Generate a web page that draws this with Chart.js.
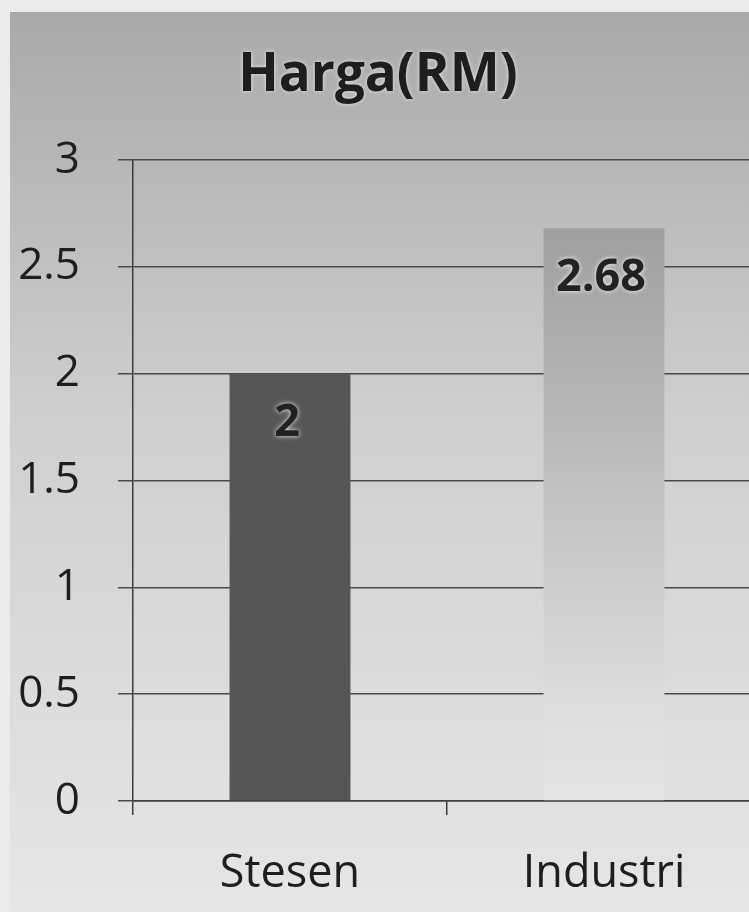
<!DOCTYPE html>
<html>
<head>
<meta charset="utf-8">
<script src="https://cdn.jsdelivr.net/npm/chart.js@4.4.1/dist/chart.umd.min.js"></script>
<style>
  html, body { margin: 0; padding: 0; overflow: hidden; background: #ebebeb; }
  #wrap { position: absolute; left: 10px; top: 12px; width: 800px; height: 900px; }
</style>
</head>
<body>
<div id="wrap"><canvas id="chart" width="800" height="900"></canvas></div>
<script>
const chartTitle = "Harga(RM)";
const categories = ["Stesen", "Industri"];
const prices = [2, 2.68];
const priceLabels = ["2", "2.68"];
const yTicks = [0, 0.5, 1, 1.5, 2, 2.5, 3];

const FONT = "'Open Sans', 'Noto Sans', sans-serif";

// background of the whole chart + title text
const backdrop = {
    id: "backdrop",
    beforeDraw(chart) {
        const { ctx, width, height } = chart;
        ctx.save();
        const g = ctx.createLinearGradient(0, 0, 0, height);
        g.addColorStop(0, "#a9a9a9");
        g.addColorStop(0.45, "#cfcfcf");
        g.addColorStop(1, "#e6e6e6");
        ctx.fillStyle = g;
        ctx.fillRect(0, 0, width, height);
        ctx.restore();
    },
    afterDraw(chart) {
        const { ctx } = chart;
        ctx.save();
        ctx.font = `bold 53px ${FONT}`;
        ctx.textAlign = "center";
        ctx.textBaseline = "middle";
        ctx.shadowColor = "rgba(255,255,255,0.7)";
        ctx.shadowBlur = 4;
        ctx.fillStyle = "#1e1e1e";
        ctx.fillText(chartTitle, 368, 64);
        ctx.restore();
    },
};

// value labels inside bar tops
const barValues = {
    id: "barValues",
    afterDatasetsDraw(chart) {
        const { ctx } = chart;
        const meta = chart.getDatasetMeta(0);
        ctx.save();
        ctx.font = `bold 45px ${FONT}`;
        ctx.textAlign = "center";
        ctx.textBaseline = "middle";
        ctx.shadowColor = "rgba(255,255,255,0.9)";
        ctx.shadowBlur = 5;
        ctx.fillStyle = "#222";
        meta.data.forEach((bar, i) => {
            ctx.fillText(priceLabels[i], bar.x - 3, bar.y + 50);
        });
        ctx.restore();
    },
};

function barFill(context) {
    const chart = context.chart;
    const { ctx, chartArea } = chart;
    if (context.dataIndex === 0) return "#565656";
    if (!chartArea) return "#bbbbbb";
    const y = chart.scales.y;
    const g = ctx.createLinearGradient(0, y.getPixelForValue(prices[1]), 0, y.getPixelForValue(0));
    g.addColorStop(0, "#9f9f9f");
    g.addColorStop(0.85, "#dedede");
    g.addColorStop(1, "#e4e4e4");
    return g;
}

new Chart(document.getElementById("chart"), {
    type: "bar",
    data: {
        labels: categories,
        datasets: [{
            data: prices,
            backgroundColor: barFill,
            borderWidth: 0,
            barPercentage: 0.385,
            categoryPercentage: 1,
        }],
    },
    options: {
        responsive: false,
        animation: false,
        layout: { padding: { top: 148, right: 49, left: 0, bottom: 0 } },
        plugins: {
            legend: { display: false },
            tooltip: { enabled: false },
            title: { display: false },
        },
        scales: {
            x: {
                afterFit(scale) { scale.height = 111; },
                grid: {
                    offset: true,
                    drawOnChartArea: false,
                    drawTicks: true,
                    tickLength: 14,
                    color: "#3c3c3c",
                    lineWidth: 1.5,
                },
                border: { display: true, color: "#3c3c3c", width: 1.5 },
                ticks: {
                    color: "#1e1e1e",
                    font: { family: FONT, size: 45 },
                    padding: 32,
                },
            },
            y: {
                min: 0,
                max: 3,
                afterFit(scale) { scale.width = 123; },
                afterBuildTicks(scale) {
                    scale.ticks = yTicks.map(v => ({ value: v }));
                },
                grid: {
                    color: "#4a4a4a",
                    lineWidth: 1.5,
                    drawTicks: true,
                    tickLength: 15,
                },
                border: { display: true, color: "#3c3c3c", width: 1.5 },
                ticks: {
                    color: "#1e1e1e",
                    font: { family: FONT, size: 44 },
                    padding: 38,
                    callback: (v) => String(v),
                },
            },
        },
    },
    plugins: [backdrop, barValues],
});
</script>
</body>
</html>
